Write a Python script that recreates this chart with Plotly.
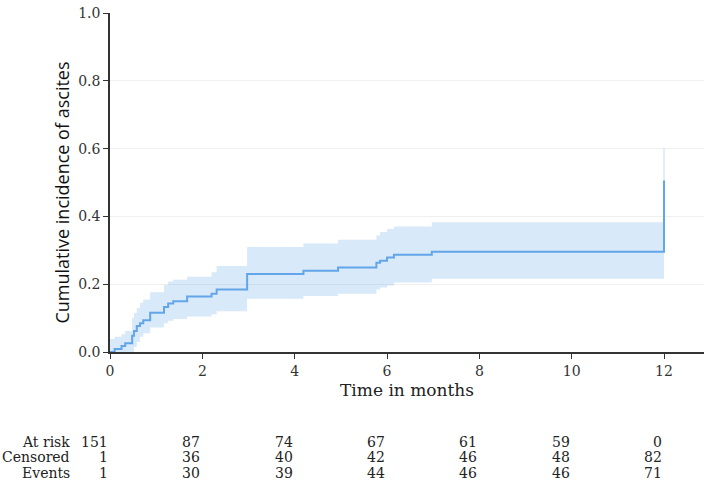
import plotly.graph_objects as go

# Step-function data (months, cumulative incidence)
times = [0, 0.10, 0.25, 0.33, 0.48, 0.52, 0.58, 0.65, 0.72, 0.87, 1.17, 1.26, 1.37, 1.67,
         2.20, 2.31, 2.97, 4.19, 4.94, 5.77, 5.85, 6.00, 6.15, 6.97, 12.0]
incidence = [0.0, 0.009, 0.018, 0.026, 0.048, 0.062, 0.077, 0.085, 0.094, 0.116, 0.133, 0.143,
             0.150, 0.164, 0.172, 0.184, 0.230, 0.240, 0.249, 0.263, 0.269, 0.279, 0.287, 0.296, 0.506]
ci_upper = [0.038, 0.045, 0.052, 0.062, 0.100, 0.115, 0.130, 0.145, 0.155, 0.176, 0.198, 0.208,
            0.213, 0.222, 0.235, 0.254, 0.310, 0.320, 0.331, 0.344, 0.354, 0.363, 0.370, 0.383, 0.600]
ci_lower = [0.0, 0.0, 0.0, 0.0, 0.0, 0.015, 0.030, 0.045, 0.055, 0.072, 0.085, 0.092,
            0.097, 0.105, 0.111, 0.120, 0.157, 0.165, 0.172, 0.184, 0.190, 0.196, 0.205, 0.216, 0.216]

# At-risk table
table_times = [0, 2, 4, 6, 8, 10, 12]
row_labels = ["At risk", "Censored", "Events"]
at_risk = [151, 87, 74, 67, 61, 59, 0]
censored = [1, 36, 40, 42, 46, 48, 82]
events = [1, 30, 39, 44, 46, 46, 71]

x_ticks = [0, 2, 4, 6, 8, 10, 12]
y_ticks = [0.0, 0.2, 0.4, 0.6, 0.8, 1.0]

LINE = "#62a6e9"
FILL = "rgba(98,166,233,0.25)"
SERIF = "DejaVu Serif"

fig = go.Figure()
fig.add_trace(go.Scatter(x=times, y=ci_lower, mode="lines", line=dict(width=0, shape="hv"),
                         hoverinfo="skip", showlegend=False))
fig.add_trace(go.Scatter(x=times, y=ci_upper, mode="lines", line=dict(width=0, shape="hv"),
                         fill="tonexty", fillcolor=FILL, hoverinfo="skip", showlegend=False))
# thin CI edge at final time
fig.add_trace(go.Scatter(x=[times[-1], times[-1]], y=[ci_upper[-2], ci_upper[-1]], mode="lines",
                         line=dict(width=1.5, color="rgba(98,166,233,0.25)"),
                         hoverinfo="skip", showlegend=False))
fig.add_trace(go.Scatter(x=times, y=incidence, mode="lines",
                         line=dict(width=2, color=LINE, shape="hv"), showlegend=False))

rows = [at_risk, censored, events]
row_y = [-0.266, -0.311, -0.357]
annotations = []
for lab, yy in zip(row_labels, row_y):
    annotations.append(dict(text=lab, xref="paper", yref="paper", x=-0.064, y=yy,
                            xanchor="right", yanchor="middle", showarrow=False,
                            font=dict(family=SERIF, size=14, color="#222")))
for vals, yy in zip(rows, row_y):
    for t, v in zip(table_times, vals):
        annotations.append(dict(text=str(v), xref="x", yref="paper", x=t, y=yy,
                                xanchor="right", yanchor="middle", showarrow=False,
                                font=dict(family=SERIF, size=14, color="#222")))
annotations.append(dict(text="Cumulative incidence of ascites", xref="paper", yref="paper",
                        x=-0.081, y=0.47, xanchor="center", yanchor="middle", textangle=-90,
                        showarrow=False, font=dict(family="Open Sans", size=18, color="#111")))

fig.update_layout(
    width=709, height=483,
    margin=dict(l=110, r=5, t=10, b=131),
    plot_bgcolor="white", paper_bgcolor="white",
    annotations=annotations,
    xaxis=dict(range=[0, 12.866], tickvals=x_ticks, ticks="outside", ticklen=5,
               tickcolor="#333", showline=True, linecolor="#333", linewidth=1.5,
               showgrid=False, zeroline=False,
               tickfont=dict(family=SERIF, size=14, color="#333"),
               title=dict(text="Time in months", standoff=7,
                          font=dict(family=SERIF, size=17, color="#222"))),
    yaxis=dict(range=[0, 1], tickvals=y_ticks, tickformat=".1f", ticks="outside", ticklen=5,
               tickcolor="#333", showline=True, linecolor="#333", linewidth=1.5,
               showgrid=True, gridcolor="#efefef", gridwidth=1, zeroline=False,
               tickfont=dict(family=SERIF, size=14, color="#333")),
)

fig.write_html("out.html")
